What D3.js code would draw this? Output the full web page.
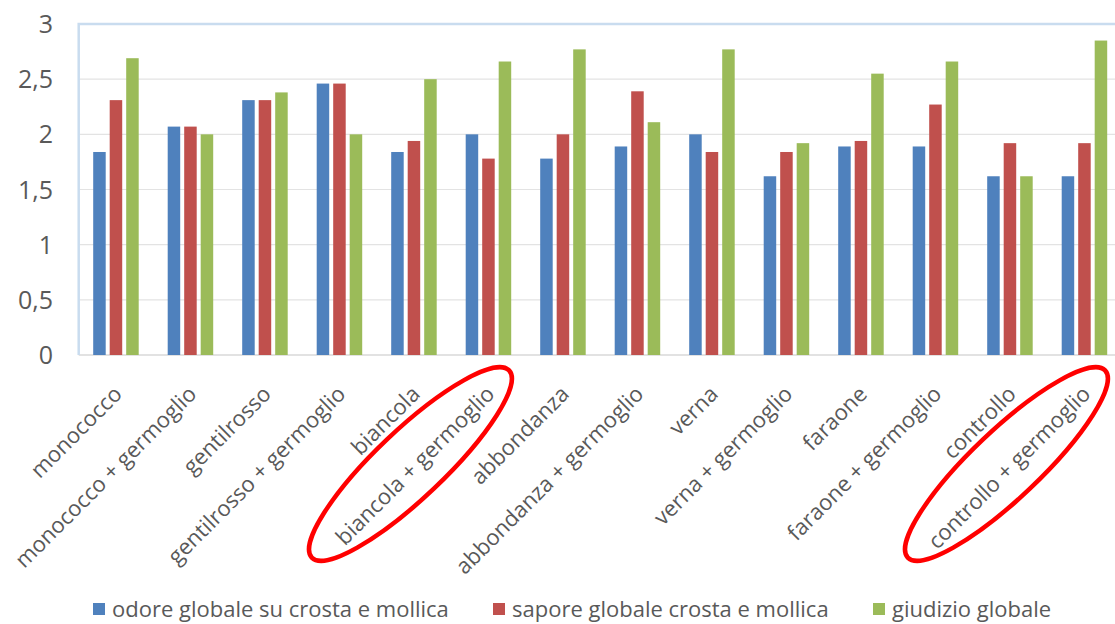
<!DOCTYPE html>
<html>
<head>
<meta charset="utf-8">
<script src="https://cdn.jsdelivr.net/npm/d3@7"></script>
<style>
  html, body { margin: 0; padding: 0; background: #fff; }
  svg { display: block; }
  text { font-family: "Open Sans", "DejaVu Sans", sans-serif; fill: #595959; }
</style>
</head>
<body>
<svg id="chart" width="1115" height="624"></svg>
<script>
// Varietà di farina (con e senza germoglio)
const categories = [
  "monococco", "monococco + germoglio", "gentilrosso", "gentilrosso + germoglio",
  "biancola", "biancola + germoglio", "abbondanza", "abbondanza + germoglio",
  "verna", "verna + germoglio", "faraone", "faraone + germoglio",
  "controllo", "controllo + germoglio"
];

const seriesNames = [
  "odore globale su crosta e mollica",
  "sapore globale crosta e mollica",
  "giudizio globale"
];

// Punteggi medi per ogni varietà
const odore   = [1.84, 2.07, 2.31, 2.46, 1.84, 2.00, 1.78, 1.89, 2.00, 1.62, 1.89, 1.89, 1.62, 1.62];
const sapore  = [2.31, 2.07, 2.31, 2.46, 1.94, 1.78, 2.00, 2.39, 1.84, 1.84, 1.94, 2.27, 1.92, 1.92];
const giudizio = [2.69, 2.00, 2.38, 2.00, 2.50, 2.66, 2.77, 2.11, 2.77, 1.92, 2.55, 2.66, 1.62, 2.85];

const yTicks = [0, 0.5, 1, 1.5, 2, 2.5, 3];
const yTickLabels = ["0", "0,5", "1", "1,5", "2", "2,5", "3"];

// Varietà evidenziate
const highlighted = ["biancola + germoglio", "controllo + germoglio"];

const colors = ["#4f81bd", "#c0504d", "#9bbb59"];
const values = [odore, sapore, giudizio];

const svg = d3.select("#chart");

const plotLeft = 78.7, plotRight = 1121.7, plotTop = 24, plotBottom = 355;

const x0 = d3.scaleBand()
  .domain(categories)
  .range([plotLeft, plotRight])
  .paddingInner(0.3356)
  .paddingOuter(0.1678);

const x1 = d3.scaleBand()
  .domain(seriesNames)
  .range([0, x0.bandwidth()])
  .paddingInner(0.242)
  .paddingOuter(0.121);

const y = d3.scaleLinear().domain([0, 3]).range([plotBottom, plotTop]);

// Griglia orizzontale
svg.append("g")
  .selectAll("line")
  .data(yTicks.filter(t => t > 0 && t < 3))
  .join("line")
  .attr("x1", plotLeft).attr("x2", 1115)
  .attr("y1", d => y(d)).attr("y2", d => y(d))
  .attr("stroke", "#e3e3e3").attr("stroke-width", 1.2);

// Linea di base
svg.append("line")
  .attr("x1", plotLeft).attr("x2", 1115)
  .attr("y1", y(0)).attr("y2", y(0))
  .attr("stroke", "#d9d9d9").attr("stroke-width", 1.5);

// Bordo dell'area del grafico
svg.append("path")
  .attr("d", `M${plotLeft},${y(0)} L${plotLeft},${y(3)} L1115,${y(3)}`)
  .attr("fill", "none")
  .attr("stroke", "#c9dcef")
  .attr("stroke-width", 2.5);

// Etichette asse Y
svg.append("g")
  .selectAll("text")
  .data(yTicks)
  .join("text")
  .attr("x", 53)
  .attr("y", d => y(d))
  .attr("dy", "0.36em")
  .attr("text-anchor", "end")
  .style("font-size", "25px")
  .text((d, i) => yTickLabels[i]);

// Barre
const groups = svg.append("g")
  .selectAll("g")
  .data(categories)
  .join("g")
  .attr("transform", d => `translate(${x0(d)},0)`);

groups.selectAll("rect")
  .data((c, ci) => seriesNames.map((s, si) => ({ s, si, v: values[si][ci] })))
  .join("rect")
  .attr("x", d => x1(d.s))
  .attr("width", x1.bandwidth())
  .attr("y", d => y(d.v))
  .attr("height", d => y(0) - y(d.v))
  .attr("fill", d => colors[d.si]);

// Etichette asse X ruotate
svg.append("g")
  .selectAll("text")
  .data(categories)
  .join("text")
  .attr("transform", d => `translate(${x0(d) + x0.bandwidth() / 2 + 2},390) rotate(-45)`)
  .attr("dy", "0.35em")
  .attr("text-anchor", "end")
  .style("font-size", "22px")
  .text(d => d);

// Ellissi rosse attorno alle varietà evidenziate
svg.append("g")
  .selectAll("ellipse")
  .data(highlighted)
  .join("ellipse")
  .attr("transform", d => `translate(${x0(d) + x0.bandwidth() / 2 - 78},464) rotate(-43.5)`)
  .attr("rx", 136)
  .attr("ry", 34)
  .attr("fill", "none")
  .attr("stroke", "#ff0000")
  .attr("stroke-width", 4.5);

// Legenda
const legendX = [93, 493, 873];
const legend = svg.append("g")
  .selectAll("g")
  .data(seriesNames)
  .join("g")
  .attr("transform", (d, i) => `translate(${legendX[i]},603)`);

legend.append("rect")
  .attr("width", 12).attr("height", 12)
  .attr("fill", (d, i) => colors[i]);

legend.append("text")
  .attr("x", 19)
  .attr("y", 14)
  .style("font-size", "22px")
  .text(d => d);
</script>
</body>
</html>
